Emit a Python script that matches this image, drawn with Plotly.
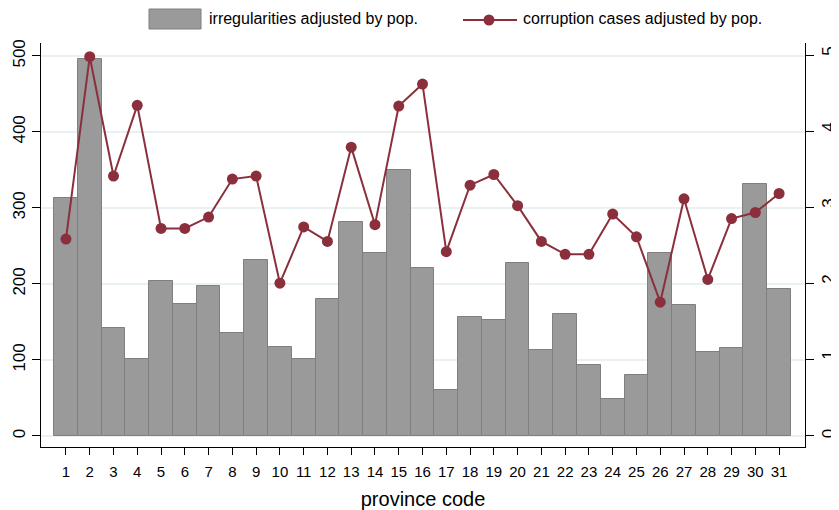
import plotly.graph_objects as go

province = list(range(1, 32))
irregularities = [313, 496, 142, 101, 204, 174, 197, 136, 232, 117, 101, 180, 281, 241, 350, 221,
                  60, 157, 152, 227, 113, 160, 93, 49, 80, 241, 172, 110, 116, 331, 193]
corruption = [0.259, 0.499, 0.342, 0.435, 0.273, 0.273, 0.288, 0.338, 0.342, 0.201, 0.275, 0.256,
              0.380, 0.278, 0.434, 0.463, 0.2425, 0.330, 0.344, 0.303, 0.256, 0.239, 0.239, 0.292,
              0.262, 0.176, 0.312, 0.206, 0.286, 0.294, 0.319]
left_ticks = [0, 100, 200, 300, 400, 500]
right_ticks = [0, 0.1, 0.2, 0.3, 0.4, 0.5]
right_labels = ["0", ".1", ".2", ".3", ".4", ".5"]

FONT = "Liberation Sans, Arial, sans-serif"
BAR_FILL = "#9a9a9a"
BAR_LINE = "#7f7f7f"
RED = "#8c2f3c"
GRID = "#eaf1f3"

fig = go.Figure()
fig.add_trace(go.Bar(
    x=province, y=irregularities, width=1,
    marker=dict(color=BAR_FILL, line=dict(color=BAR_LINE, width=1)),
    name="irregularities adjusted by pop.", showlegend=False,
))
fig.add_trace(go.Scatter(
    x=province, y=corruption, yaxis="y2", mode="lines+markers",
    line=dict(color=RED, width=2), marker=dict(color=RED, size=11),
    name="corruption cases adjusted by pop.", showlegend=False,
))

# page has an 8px body margin; work in page pixels and subtract it
OFF = 8
FW, FH = 839 - OFF, 510 - OFF
# plot area in page pixels: x 41..805, y 43..447
L, R, T, B = 41, 805, 43, 447
W, H = R - L, B - T
def px(x):
    return (x - L) / W
def py(y):
    return (B - y) / H

shapes = [
    dict(type="rect", xref="paper", yref="paper", x0=px(149), x1=px(201), y0=py(29), y1=py(9),
         fillcolor=BAR_FILL, line=dict(color=BAR_LINE, width=1)),
    dict(type="line", xref="paper", yref="paper", x0=px(463), x1=px(517), y0=py(20), y1=py(20),
         line=dict(color=RED, width=2)),
    dict(type="circle", xref="paper", yref="paper", x0=px(483.5), x1=px(494.5), y0=py(25.5), y1=py(14.5),
         fillcolor=RED, line=dict(color=RED, width=0)),
]
annotations = [
    dict(text="irregularities adjusted by pop.", xref="paper", yref="paper", x=px(207), y=py(19),
         xanchor="left", yanchor="middle", showarrow=False, font=dict(size=16, color="#000", family=FONT)),
    dict(text="corruption cases adjusted by pop.", xref="paper", yref="paper", x=px(521), y=py(19),
         xanchor="left", yanchor="middle", showarrow=False, font=dict(size=16, color="#000", family=FONT)),
]

fig.update_layout(
    width=FW, height=FH,
    margin=dict(l=L - OFF, r=FW - (R - OFF), t=T - OFF, b=FH - (B - OFF)),
    paper_bgcolor="white", plot_bgcolor="white",
    font=dict(family=FONT, color="#000"),
    shapes=shapes, annotations=annotations,
    bargap=0,
    xaxis=dict(
        range=[-0.05, 32.09], tickvals=province, ticks="outside", ticklen=7, tickcolor="#000",
        showline=True, linecolor="#000", linewidth=1, showgrid=False, zeroline=False, automargin=False,
        tickfont=dict(size=15), ticklabelstandoff=4,
        title=dict(text="province code", font=dict(size=20), standoff=14),
    ),
    yaxis=dict(
        range=[-14.5, 517], tickvals=left_ticks, ticks="outside", ticklen=8, tickcolor="#000",
        showline=True, linecolor="#000", linewidth=1, showgrid=True, gridcolor=GRID, gridwidth=1.5,
        zeroline=False, tickangle=-90, tickfont=dict(size=17), automargin=False,
    ),
    yaxis2=dict(
        range=[-0.0145, 0.517], tickvals=right_ticks, ticktext=right_labels, overlaying="y", side="right",
        ticks="outside", ticklen=8, tickcolor="#000", showline=True, linecolor="#000", linewidth=1,
        showgrid=False, zeroline=False, tickangle=-90, tickfont=dict(size=17), automargin=False,
    ),
)

fig.write_html("out.html")
